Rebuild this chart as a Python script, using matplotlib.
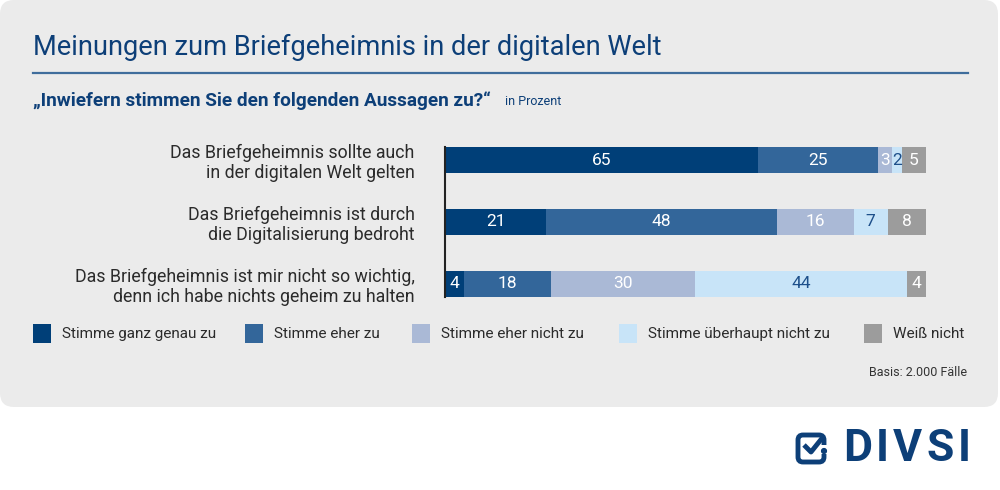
import matplotlib
matplotlib.use("Agg")
import matplotlib.pyplot as plt
from matplotlib.patches import FancyBboxPatch, Rectangle
import numpy as np

plt.rcParams['font.family'] = ['Roboto', 'DejaVu Sans']

# data
statements = [
    "Das Briefgeheimnis sollte auch\nin der digitalen Welt gelten",
    "Das Briefgeheimnis ist durch\ndie Digitalisierung bedroht",
    "Das Briefgeheimnis ist mir nicht so wichtig,\ndenn ich habe nichts geheim zu halten",
]
answers = ["Stimme ganz genau zu", "Stimme eher zu", "Stimme eher nicht zu",
           "Stimme überhaupt nicht zu", "Weiß nicht"]
ganz_genau = [65, 21, 4]
eher_zu = [25, 48, 18]
eher_nicht = [3, 16, 30]
ueberhaupt_nicht = [2, 7, 44]
weiss_nicht = [5, 8, 4]

colors = ["#003f78", "#33669a", "#aab9d6", "#c8e4f8", "#9c9c9c"]
text_colors = ["white", "white", "white", "#1d4f8a", "white"]
navy = "#0d3f78"
bg_grey = "#ebebeb"

fig = plt.figure(figsize=(10, 4.9), dpi=100)
fig.patch.set_facecolor("white")

# background layer in pixel coordinates
bg = fig.add_axes([0, 0, 1, 1])
bg.set_xlim(0, 1000)
bg.set_ylim(490, 0)
bg.axis("off")
bg.add_patch(FancyBboxPatch((0, 0), 998, 407, boxstyle="round,pad=0,rounding_size=14",
                            facecolor=bg_grey, edgecolor="none"))

bg.text(33, 47, "Meinungen zum Briefgeheimnis in der digitalen Welt", fontsize=19.6,
        color=navy, va="center", ha="left")
bg.plot([33, 968], [73, 73], color="#3f6d9c", lw=1.6)
bg.text(33, 101, "\u201eInwiefern stimmen Sie den folgenden Aussagen zu?\u201c", fontsize=13.7,
        color=navy, fontweight="bold", va="center", ha="left")
bg.text(505, 101, "in Prozent", fontsize=9, color=navy, va="center", ha="left")

# legend
sq_x = [33, 245, 412, 619, 864]
for i, name in enumerate(answers):
    bg.add_patch(Rectangle((sq_x[i], 324), 18, 19, facecolor=colors[i], edgecolor="none"))
    bg.text(sq_x[i] + 29, 334, name, fontsize=11, color="#2b2b2b", va="center", ha="left")

bg.text(967, 372, "Basis: 2.000 Fälle", fontsize=9, color="#333333", va="center", ha="right")

# logo
bg.add_patch(FancyBboxPatch((798, 435), 26, 27, boxstyle="round,pad=0,rounding_size=5",
                            facecolor="none", edgecolor=navy, lw=3.5))
bg.add_patch(Rectangle((818, 445), 10, 9, facecolor="white", edgecolor="none"))
bg.plot([804, 811, 823], [445, 452, 437], color=navy, lw=3.5, solid_capstyle="butt")
bg.add_patch(plt.Circle((824, 451), 2.4, color=navy))
renderer = fig.canvas.get_renderer()
lx = 843
for ch in "DIVSI":
    t = bg.text(lx, 449, ch, fontsize=32, fontweight="bold", color=navy, va="center", ha="left")
    lx += t.get_window_extent(renderer).width + 4

# bar chart
ax = fig.add_axes([0.445, (490 - 297) / 490, 0.481, 150 / 490])
ax.set_facecolor("none")
series = [ganz_genau, eher_zu, eher_nicht, ueberhaupt_nicht, weiss_nicht]
y = np.arange(len(statements))
left = np.zeros(len(statements))
for i, vals in enumerate(series):
    vals = np.array(vals)
    ax.barh(y, vals, left=left, height=0.42, color=colors[i], edgecolor="none")
    for yy, l, v in zip(y, left, vals):
        ax.text(l + v / 2, yy, str(v), ha="center", va="center", fontsize=12.5,
                color=text_colors[i])
    left += vals

ax.set_xlim(0, 100)
ax.set_ylim(2.21, -0.21)
ax.set_xticks([])
ax.set_yticks(y)
ax.set_yticklabels(statements, fontsize=12.8, color="#2b2b2b", linespacing=1.15)
ax.tick_params(axis="y", length=0, pad=22)
for lbl in ax.get_yticklabels():
    lbl.set_horizontalalignment("right")
for s in ["top", "right", "bottom"]:
    ax.spines[s].set_visible(False)
ax.spines["left"].set_color("#222222")
ax.spines["left"].set_linewidth(1.5)

fig.savefig("out.png", dpi=100, facecolor=fig.get_facecolor())
